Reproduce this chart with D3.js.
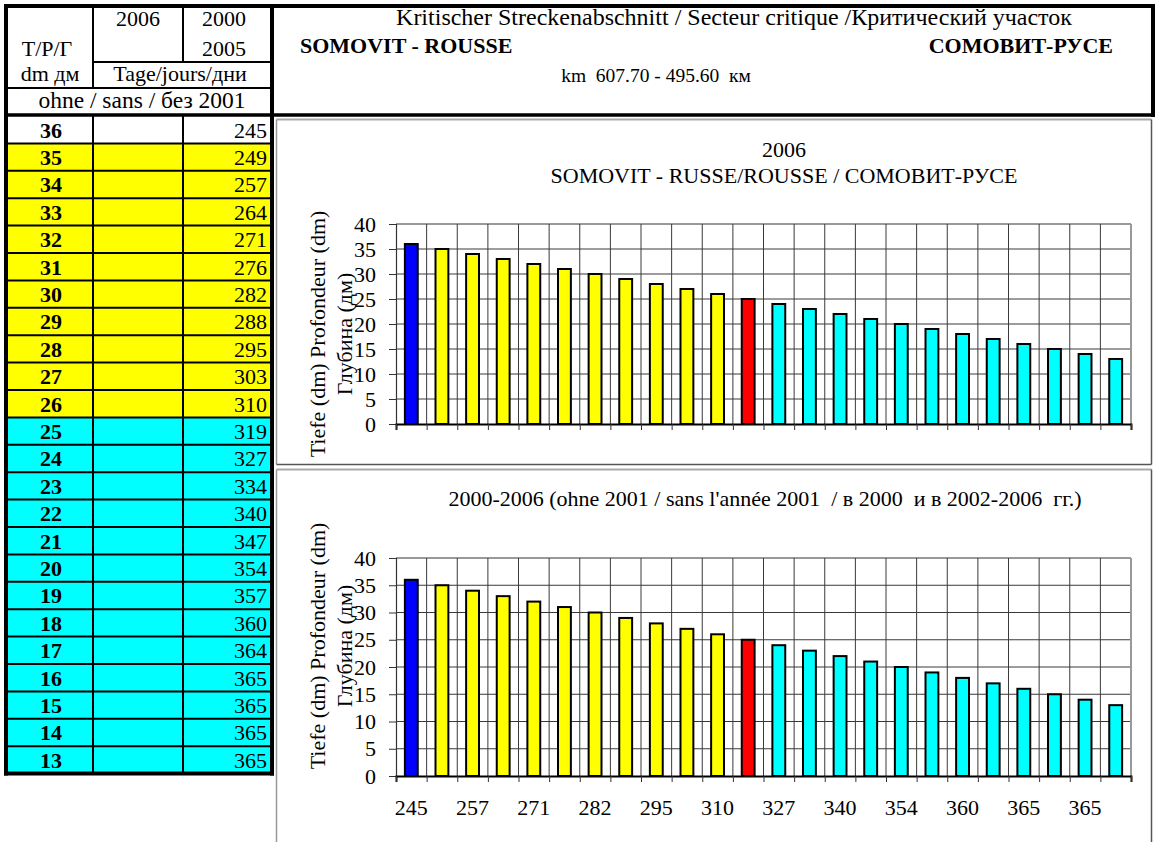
<!DOCTYPE html>
<html>
<head>
<meta charset="utf-8">
<script src="https://cdn.jsdelivr.net/npm/d3@7"></script>
<style>
  body { margin: 0; background: #fff; }
  svg { display: block; }
  text { font-family: "Liberation Serif", "Times New Roman", serif; fill: #000; }
</style>
</head>
<body>
<svg id="chart" width="1157" height="842"></svg>
<script>
// Fairway depth (dm) and number of days it was available
const depths = [36, 35, 34, 33, 32, 31, 30, 29, 28, 27, 26, 25, 24, 23, 22, 21, 20, 19, 18, 17, 16, 15, 14, 13];
const days2006 = [];
const days2000to2005 = [245, 249, 257, 264, 271, 276, 282, 288, 295, 303, 310, 319, 327, 334, 340, 347, 354, 357, 360, 364, 365, 365, 365, 365];
// depth class: max = reference depth, ok = above critical, crit = critical, low = below critical
const depthClass = ["max", "ok", "ok", "ok", "ok", "ok", "ok", "ok", "ok", "ok", "ok", "crit",
                    "low", "low", "low", "low", "low", "low", "low", "low", "low", "low", "low", "low"];
const yTicks = [0, 5, 10, 15, 20, 25, 30, 35, 40];

const headerTitle = "Kritischer Streckenabschnitt / Secteur critique /Критический участок";
const sectionLatin = "SOMOVIT - ROUSSE";
const sectionCyr = "СОМОВИТ-РУСЕ";
const sectionKm = "km  607.70 - 495.60  км";
const chart1Title = ["2006", "SOMOVIT - RUSSE/ROUSSE / СОМОВИТ-РУСЕ"];
const chart2Title = ["2000-2006 (ohne 2001 / sans l'année 2001  / в 2000  и в 2002-2006  гг.)"];
const yTitle = ["Tiefe (dm) Profondeur (dm)", "Глубина (дм)"];

const barFill = { max: "#0000ff", ok: "#ffff00", crit: "#ff0000", low: "#00ffff" };
const rowFill = { max: "#ffffff", ok: "#ffff00", crit: "#00ffff", low: "#00ffff" };

const FS = 22;
const svg = d3.select("#chart");
svg.append("rect").attr("width", 1157).attr("height", 842).attr("fill", "#fff");

// ---------- left table ----------
const T = { x0: 6, x1: 93, x2: 183, x3: 272, top: 6, hA: 62, hB: 88, hC: 115, bodyTop: 116, rowH: 27.4 };
const table = svg.append("g");
const rowY = d3.scaleLinear().domain([0, depths.length]).range([T.bodyTop, T.bodyTop + T.rowH * depths.length]);

table.selectAll("rect.row").data(depths).join("rect")
  .attr("x", T.x0).attr("y", (d, i) => rowY(i))
  .attr("width", T.x3 - T.x0).attr("height", T.rowH)
  .attr("fill", (d, i) => rowFill[depthClass[i]]);

// row separators
table.selectAll("line.rs").data(d3.range(1, depths.length)).join("line")
  .attr("x1", T.x0).attr("x2", T.x3).attr("y1", i => rowY(i)).attr("y2", i => rowY(i))
  .attr("stroke", "#000").attr("stroke-width", 2);
// column separators in body
[T.x1, T.x2].forEach(x => table.append("line").attr("x1", x).attr("x2", x)
  .attr("y1", T.hC).attr("y2", rowY(depths.length)).attr("stroke", "#000").attr("stroke-width", 2));

table.selectAll("text.dep").data(depths).join("text")
  .attr("x", 51).attr("y", (d, i) => rowY(i) + 21.5)
  .attr("text-anchor", "middle").attr("font-weight", "bold").attr("font-size", FS)
  .text(d => d);
table.selectAll("text.d06").data(depths).join("text")
  .attr("x", 178).attr("y", (d, i) => rowY(i) + 21.5)
  .attr("text-anchor", "end").attr("font-size", FS)
  .text((d, i) => days2006[i] ?? "");
table.selectAll("text.d05").data(days2000to2005).join("text")
  .attr("x", 267).attr("y", (d, i) => rowY(i) + 21.5)
  .attr("text-anchor", "end").attr("font-size", FS)
  .text(d => d);

// header grid
const hl = (x1, y1, x2, y2, w) => table.append("line").attr("x1", x1).attr("y1", y1).attr("x2", x2).attr("y2", y2)
  .attr("stroke", "#000").attr("stroke-width", w);
hl(T.x1, T.top, T.x1, T.hB, 2);
hl(T.x2, T.top, T.x2, T.hA, 2);
hl(T.x1, T.hA, T.x3, T.hA, 2);
hl(T.x0, T.hB, T.x3, T.hB, 2);

const ht = (x, y, s, size) => table.append("text").attr("x", x).attr("y", y)
  .attr("text-anchor", "middle").attr("font-size", size || FS).text(s);
ht(138, 26, "2006");
ht(224, 26, "2000");
ht(224, 56, "2005");
ht(47, 56, "T/P/Г");
ht(50, 81, "dm  дм");
ht(180, 81, "Tage/jours/дни");
ht(142, 108, "ohne / sans / без 2001", 23.5);

// ---------- header box ----------
const hb = svg.append("g");
hb.append("text").attr("x", 734).attr("y", 25).attr("text-anchor", "middle").attr("font-size", 24).text(headerTitle);
hb.append("text").attr("x", 300).attr("y", 53).attr("font-size", FS).attr("font-weight", "bold").text(sectionLatin);
hb.append("text").attr("x", 1113).attr("y", 53).attr("text-anchor", "end").attr("font-size", FS).attr("font-weight", "bold").text(sectionCyr);
hb.append("text").attr("x", 656).attr("y", 82).attr("text-anchor", "middle").attr("font-size", 19.5)
  .style("white-space", "pre").text(sectionKm);

// thick frame lines
const fr = (x1, y1, x2, y2, w) => svg.append("line").attr("x1", x1).attr("y1", y1).attr("x2", x2).attr("y2", y2)
  .attr("stroke", "#000").attr("stroke-width", w);
fr(4, T.top, 1155, T.top, 4);
fr(T.x0, 4, T.x0, rowY(depths.length) + 2, 4);
fr(T.x3, 4, T.x3, rowY(depths.length) + 2, 4);
fr(1153, 4, 1153, 117, 4);
fr(4, T.hC, 1155, T.hC, 3.5);
fr(4, rowY(depths.length), T.x3 + 2, rowY(depths.length), 4);

// ---------- chart panels ----------
function panel(y0, h) {
  const g = svg.append("g");
  g.append("line").attr("x1", 276.5).attr("x2", 1151.5).attr("y1", y0).attr("y2", y0).attr("stroke", "#aaa").attr("stroke-width", 2);
  g.append("line").attr("x1", 276.5).attr("x2", 276.5).attr("y1", y0).attr("y2", y0 + h).attr("stroke", "#999").attr("stroke-width", 1.5);
  g.append("line").attr("x1", 1151.5).attr("x2", 1151.5).attr("y1", y0).attr("y2", y0 + h).attr("stroke", "#555").attr("stroke-width", 1.5);
  g.append("line").attr("x1", 276.5).attr("x2", 1151.5).attr("y1", y0 + h).attr("y2", y0 + h).attr("stroke", "#555").attr("stroke-width", 1.5);
}
panel(119.5, 345);
panel(469.5, 420);

function barChart(opts) {
  const { top, bottom, titleLines, titleX, titleY, titleGap, yTitleC, labels } = opts;
  const g = svg.append("g");
  const left = 396, right = 1131;
  const slot = d3.scaleLinear().domain([0, depths.length]).range([left, right]);
  const x = d3.scaleBand().domain(d3.range(depths.length)).range([left, right]).paddingInner(0.58).paddingOuter(0.29);
  const y = d3.scaleLinear().domain([0, 40]).range([bottom, top]);

  // grid
  g.append("g").selectAll("line").data(yTicks.slice(1)).join("line")
    .attr("x1", left).attr("x2", right).attr("y1", d => y(d)).attr("y2", d => y(d))
    .attr("stroke", d => d === 40 ? "#999" : "#3a3a3a").attr("stroke-width", d => d === 40 ? 2 : 1);
  g.append("g").selectAll("line").data(d3.range(1, depths.length + 1)).join("line")
    .attr("x1", d => slot(d)).attr("x2", d => slot(d)).attr("y1", top).attr("y2", bottom)
    .attr("stroke", d => d === depths.length ? "#999" : "#3a3a3a").attr("stroke-width", d => d === depths.length ? 2 : 1);

  // bars
  g.append("g").selectAll("rect").data(depths).join("rect")
    .attr("x", (d, i) => x(i)).attr("width", x.bandwidth())
    .attr("y", d => y(d)).attr("height", d => y(0) - y(d))
    .attr("fill", (d, i) => barFill[depthClass[i]])
    .attr("stroke", "#000").attr("stroke-width", 2);

  // axes
  const ya = g.append("g").attr("transform", `translate(${left},0)`)
    .call(d3.axisLeft(y).tickValues(yTicks).tickSize(7).tickPadding(13));
  ya.select(".domain").attr("stroke", "#333").attr("stroke-width", 1.2);
  ya.selectAll(".tick line").attr("stroke", "#333");
  ya.selectAll(".tick text").attr("font-size", FS).attr("fill", "#000");

  const xa = g.append("g").attr("transform", `translate(0,${bottom})`)
    .call(d3.axisBottom(slot).tickValues(d3.range(0, depths.length + 1)).tickSize(6).tickFormat(""));
  xa.select(".domain").attr("stroke", "#000").attr("stroke-width", 2);
  xa.selectAll(".tick line").attr("stroke", "#333");

  if (labels) {
    g.append("g").selectAll("text").data(labels.map((v, i) => [v, i]).filter(p => p[1] % 2 === 0)).join("text")
      .attr("x", p => x(p[1]) + x.bandwidth() / 2).attr("y", bottom + 39)
      .attr("text-anchor", "middle").attr("font-size", FS).text(p => p[0]);
  }

  // titles
  titleLines.forEach((s, i) => g.append("text").attr("x", titleX).attr("y", titleY + i * titleGap)
    .attr("text-anchor", "middle").attr("font-size", FS).style("white-space", "pre").text(s));

  yTitle.forEach((s, i) => g.append("text")
    .attr("transform", `translate(${325 + i * 27},${yTitleC}) rotate(-90)`)
    .attr("text-anchor", "middle").attr("font-size", FS).text(s));
}

barChart({ top: 224, bottom: 424, titleLines: chart1Title, titleX: 784, titleY: 157, titleGap: 26, yTitleC: 334, labels: null });
barChart({ top: 558, bottom: 776, titleLines: chart2Title, titleX: 765, titleY: 506, titleGap: 26, yTitleC: 646, labels: days2000to2005 });
</script>
</body>
</html>
